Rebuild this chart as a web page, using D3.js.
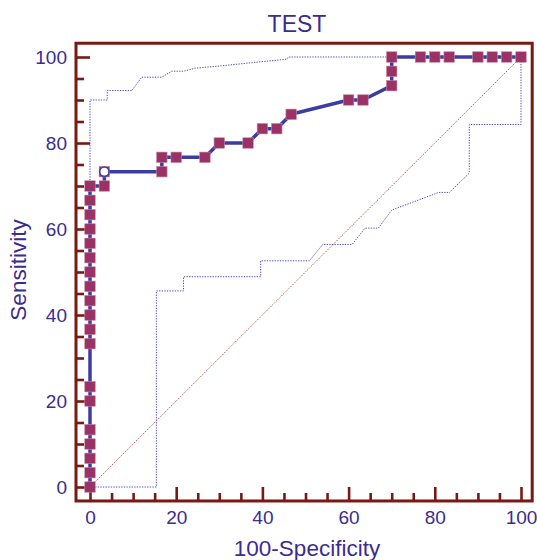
<!DOCTYPE html>
<html>
<head>
<meta charset="utf-8">
<script src="https://cdn.jsdelivr.net/npm/d3@7"></script>
<style>
  html, body { margin: 0; padding: 0; background: #ffffff; }
  svg { display: block; }
  text { font-family: "Liberation Sans", Arial, Helvetica, sans-serif; }
</style>
</head>
<body>
<svg id="chart" width="537" height="560"></svg>
<script>
// ---- data ----
const titleText = "TEST";
const xLabel = "100-Specificity";
const yLabel = "Sensitivity";
const majorTicks = [0, 20, 40, 60, 80, 100];
const minorTicks = [5, 10, 15, 25, 30, 35, 45, 50, 55, 65, 70, 75, 85, 90, 95];

// ROC curve points (100-Specificity, Sensitivity)
const rocFpr = [0,0,0,0,0,0,0,0,0,0,0,0,0,0,0,0,0,0,0,
  3.33,3.33,16.67,16.67,20,26.67,30,36.67,40,43.33,46.67,60,63.33,70,70,70,76.67,80,83.33,90,93.33,96.67,100];
const rocTpr = [0,3.33,6.67,10,13.33,20,23.33,33.33,36.67,40,43.33,46.67,50,53.33,56.67,60,63.33,66.67,70,
  70,73.33,73.33,76.67,76.67,76.67,80,80,83.33,83.33,86.67,90,90,93.33,96.67,100,100,100,100,100,100,100,100];

// optimal criterion point
const critFpr = [3.33];
const critTpr = [73.33];

// upper confidence band
const upperFpr = [0, 0, 4.0, 4.0, 9.7, 12.0, 16.6, 19.0, 21.7, 24.4, 30, 36.8, 45.7, 46, 100];
const upperTpr = [0, 90.0, 90.0, 92.2, 92.2, 95.3, 95.3, 96.7, 96.7, 97.4, 97.9, 98.6, 99.5, 100, 100];

// lower confidence band
const lowerFpr = [0, 15.4, 15.4, 21.7, 21.7, 39.6, 39.6, 50.9, 54.0, 60.8, 63.8, 66.9, 70.0, 80.9, 83.4, 88.0, 88.0, 100, 100];
const lowerTpr = [0, 0, 45.6, 45.6, 48.9, 48.9, 52.6, 52.6, 56.4, 56.4, 60.2, 60.2, 64.4, 68.5, 68.5, 73.0, 84.3, 84.3, 100];

// reference diagonal
const diagFpr = [0, 100];
const diagTpr = [0, 100];

// ---- styles ----
const textColor = "#3b2d8f";
const frameColor = "#7a1812";
const rocColor = "#3c3ca2";
const markerColor = "#9a3265";
const bandColor = "#4b4bc4";
const diagColor = "#b4504a";

const svg = d3.select("#chart");

const x = d3.scaleLinear().domain([0, 100]).range([90, 521]);
const y = d3.scaleLinear().domain([0, 100]).range([487, 57]);

const frameLeft = x(-3.25), frameRight = x(102.6);
const frameTop = y(103.2), frameBottom = y(-3.25);

const line = d3.line().x(d => x(d[0])).y(d => y(d[1]));
const zip = (a, b) => a.map((v, i) => [v, b[i]]);

// diagonal
svg.append("path")
  .datum(zip(diagFpr, diagTpr))
  .attr("d", line)
  .attr("fill", "none")
  .attr("stroke", diagColor)
  .attr("stroke-width", 1)
  .attr("stroke-dasharray", "1.3,1.3");

// confidence bands
[[upperFpr, upperTpr], [lowerFpr, lowerTpr]].forEach(([fx, fy]) => {
  svg.append("path")
    .datum(zip(fx, fy))
    .attr("d", line)
    .attr("fill", "none")
    .attr("stroke", bandColor)
    .attr("stroke-width", 1)
    .attr("stroke-dasharray", "1.3,1.3");
});

// frame
svg.append("rect")
  .attr("x", frameLeft).attr("y", frameTop)
  .attr("width", frameRight - frameLeft)
  .attr("height", frameBottom - frameTop)
  .attr("fill", "none")
  .attr("stroke", frameColor)
  .attr("stroke-width", 3);

// y ticks (inward)
function styleTicks(g) {
  g.select(".domain").remove();
  g.selectAll(".tick line").attr("stroke", frameColor).attr("stroke-width", 2.6);
}
svg.append("g").attr("transform", `translate(${frameLeft},0)`)
  .call(d3.axisRight(y).tickValues(majorTicks).tickSize(14).tickFormat(""))
  .call(styleTicks);
svg.append("g").attr("transform", `translate(${frameLeft},0)`)
  .call(d3.axisRight(y).tickValues(minorTicks).tickSize(8).tickFormat(""))
  .call(styleTicks);
// x ticks (inward)
svg.append("g").attr("transform", `translate(0,${frameBottom})`)
  .call(d3.axisTop(x).tickValues(majorTicks).tickSize(14).tickFormat(""))
  .call(styleTicks);
svg.append("g").attr("transform", `translate(0,${frameBottom})`)
  .call(d3.axisTop(x).tickValues(minorTicks).tickSize(8).tickFormat(""))
  .call(styleTicks);

// tick labels
const yLab = svg.append("g").attr("transform", `translate(${frameLeft},0)`)
  .call(d3.axisLeft(y).tickValues(majorTicks).tickSize(0).tickPadding(9).tickFormat(d3.format("d")));
yLab.select(".domain").remove();
yLab.selectAll("text").attr("fill", textColor).style("font-size", "19px")
  .style("font-family", "'Liberation Sans', Arial, sans-serif");

const xLab = svg.append("g").attr("transform", `translate(0,${frameBottom})`)
  .call(d3.axisBottom(x).tickValues(majorTicks).tickSize(0).tickPadding(10).tickFormat(d3.format("d")));
xLab.select(".domain").remove();
xLab.selectAll("text").attr("fill", textColor).style("font-size", "19px")
  .style("font-family", "'Liberation Sans', Arial, sans-serif");

// ROC line
const rocPts = zip(rocFpr, rocTpr);
svg.append("path")
  .datum(rocPts)
  .attr("d", line)
  .attr("fill", "none")
  .attr("stroke", rocColor)
  .attr("stroke-width", 3.5)
  .attr("stroke-linejoin", "round");

// markers
const ms = 10.5;
svg.append("g").selectAll("rect")
  .data(rocPts)
  .join("rect")
  .attr("x", d => x(d[0]) - ms / 2)
  .attr("y", d => y(d[1]) - ms / 2)
  .attr("width", ms).attr("height", ms)
  .attr("fill", markerColor)
  .attr("stroke", "#c88aa6")
  .attr("stroke-width", 0.6);

// criterion point
svg.append("g").selectAll("circle")
  .data(zip(critFpr, critTpr))
  .join("circle")
  .attr("cx", d => x(d[0]))
  .attr("cy", d => y(d[1]))
  .attr("r", 4.6)
  .attr("fill", "#ffffff")
  .attr("stroke", rocColor)
  .attr("stroke-width", 1.5);

// title & axis labels
svg.append("text")
  .attr("x", 297).attr("y", 32)
  .attr("text-anchor", "middle")
  .attr("fill", textColor)
  .style("font-size", "23px")
  .text(titleText);

svg.append("text")
  .attr("x", 307).attr("y", 556)
  .attr("text-anchor", "middle")
  .attr("fill", textColor)
  .style("font-size", "22.5px")
  .text(xLabel);

svg.append("text")
  .attr("transform", `translate(26,${(y(0) + y(100)) / 2 - 2}) rotate(-90)`)
  .attr("text-anchor", "middle")
  .attr("fill", textColor)
  .style("font-size", "22.5px")
  .text(yLabel);
</script>
</body>
</html>
